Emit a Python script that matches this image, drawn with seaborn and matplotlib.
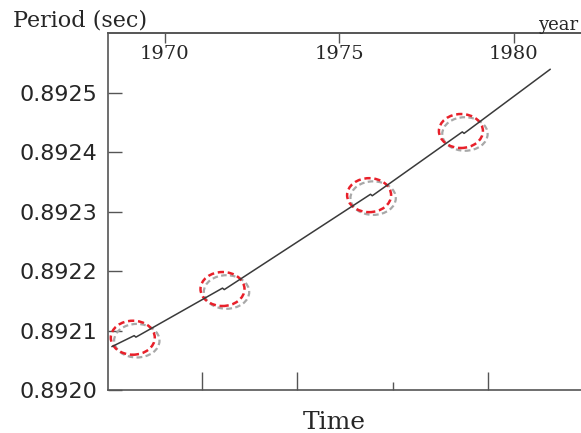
import pandas as pd
import matplotlib.pyplot as plt
import seaborn as sns
from matplotlib.patches import Ellipse
from matplotlib.ticker import FormatStrFormatter

# period of the pulsar over time, with small glitches
line_year = [1968.49, 1969.13, 1969.18, 1971.66, 1971.71, 1975.90, 1975.95,
             1978.53, 1978.58, 1981.05]
line_period = [0.8920730, 0.8920915, 0.8920890, 0.8921715, 0.8921690,
               0.8923295, 0.8923270, 0.8924345, 0.8924320, 0.8925400]

# circled glitches
circle_year = [1969.09, 1971.66, 1975.86, 1978.49]
circle_period = [0.892088, 0.892170, 0.892328, 0.892436]

top_years = [1970, 1975, 1980]
bottom_ticks = [1971.07, 1973.79, 1979.28]
bottom_minor = [1976.54]
period_ticks = [0.8920, 0.8921, 0.8922, 0.8923, 0.8924, 0.8925]

df_line = pd.DataFrame({"year": line_year, "period": line_period})

sns.set_theme(style="white")
plt.rcParams["font.family"] = ["DejaVu Serif"]

fig = plt.figure(figsize=(5.81, 4.33), dpi=100)
ax = fig.add_axes([108 / 581, 43 / 433, 473 / 581, 357 / 433])

sns.lineplot(data=df_line, x="year", y="period", sort=False, estimator=None,
             color="#3a3a3a", linewidth=1.1, ax=ax)

for yr, p in zip(circle_year, circle_period):
    ax.add_patch(Ellipse((yr + 0.115, p - 0.000005), 1.30, 0.0000565,
                         fill=False, edgecolor="#a8a8a8", linewidth=1.6,
                         linestyle=(0, (2.5, 1.5))))
    ax.add_patch(Ellipse((yr, p), 1.26, 0.0000572,
                         fill=False, edgecolor="#e8202a", linewidth=1.8,
                         linestyle=(0, (2.5, 1.5))))

ax.set_xlim(1968.38, 1981.93)
ax.set_ylim(0.8920, 0.892601)

ax.set_yticks(period_ticks)
ax.yaxis.set_major_formatter(FormatStrFormatter("%.4f"))
ax.tick_params(axis="y", direction="in", length=10, width=1, color="#555555",
               left=True, pad=8, labelsize=16)
for lab in ax.get_yticklabels():
    lab.set_fontfamily("DejaVu Sans")

ax.set_xticks(bottom_ticks)
ax.set_xticks(bottom_minor, minor=True)
ax.set_xticklabels([])
ax.tick_params(axis="x", which="major", direction="in", length=13, width=1,
               color="#555555", bottom=True)
ax.tick_params(axis="x", which="minor", direction="in", length=6, width=1,
               color="#555555", bottom=True)

top = ax.secondary_xaxis("top")
top.set_xticks(top_years)
top.set_xticklabels([str(y) for y in top_years])
top.tick_params(direction="in", length=7, width=1, color="#555555",
                pad=-21.5, labelsize=14)
top.spines["top"].set_color("#555555")
top.spines["top"].set_linewidth(1.2)

for side in ["left", "bottom", "top"]:
    ax.spines[side].set_visible(True)
    ax.spines[side].set_color("#555555")
    ax.spines[side].set_linewidth(1.2)
ax.spines["right"].set_visible(False)

ax.set_xlabel("Time", fontsize=18)
ax.xaxis.set_label_coords(226 / 473, -0.058)
ax.set_ylabel("")

fig.text(13 / 581, 1 - 26 / 433, "Period (sec)", fontsize=16, va="baseline",
         ha="left")
fig.text(578 / 581, 1 - 30 / 433, "year", fontsize=13, va="baseline",
         ha="right")

fig.savefig("out.png", dpi=100)
